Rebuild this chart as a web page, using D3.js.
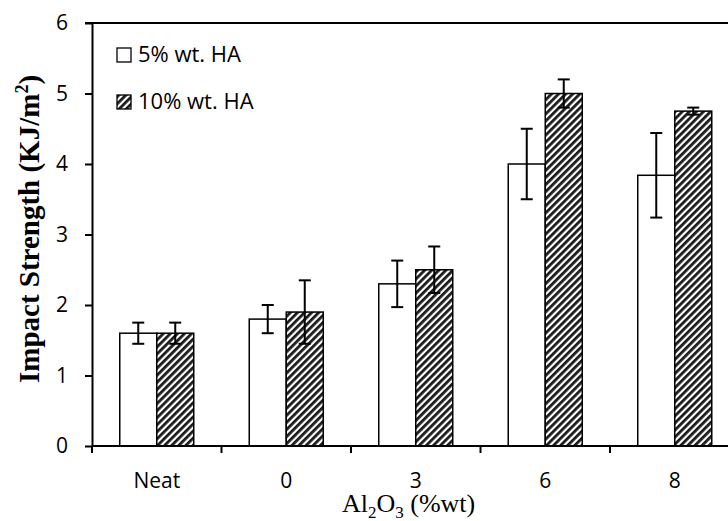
<!DOCTYPE html>
<html>
<head>
<meta charset="utf-8">
<script src="https://cdnjs.cloudflare.com/ajax/libs/d3/7.8.5/d3.min.js"></script>
<style>
  body { margin: 0; background: #fff; }
  svg { display: block; }
</style>
</head>
<body>
<svg width="728" height="521"></svg>
<script>
var categories = ["Neat", "0", "3", "6", "8"];
var seriesNames = ["5% wt. HA", "10% wt. HA"];
var ha5 = [1.6, 1.8, 2.3, 4.0, 3.84];
var ha5Err = [0.15, 0.2, 0.33, 0.5, 0.6];
var ha10 = [1.6, 1.9, 2.5, 5.0, 4.75];
var ha10Err = [0.15, 0.45, 0.33, 0.2, 0.05];
var yTicks = [0, 1, 2, 3, 4, 5, 6];

window.onload = function() {

  var svg = d3.select("svg");
  var width = +svg.attr("width");

  var left = 92, top = 23, bottom = 446, catW = 129.5;
  var barW = 37;

  var x = d3.scaleBand()
      .domain(categories)
      .range([left, left + catW * categories.length]);

  var y = d3.scaleLinear()
      .domain([0, 6])
      .range([bottom, top]);

  // hatch pattern
  var defs = svg.append("defs");
  var pat = defs.append("pattern")
      .attr("id", "hatch")
      .attr("patternUnits", "userSpaceOnUse")
      .attr("width", 5)
      .attr("height", 5)
      .attr("patternTransform", "rotate(45)");
  pat.append("rect")
      .attr("width", 5).attr("height", 5).attr("fill", "#fff");
  pat.append("rect")
      .attr("width", 2.8).attr("height", 5).attr("fill", "#1a1a1a");

  var series = [
    { name: seriesNames[0], values: ha5, err: ha5Err, fill: "#fff", off: -barW },
    { name: seriesNames[1], values: ha10, err: ha10Err, fill: "url(#hatch)", off: 0 }
  ];

  // top border line
  svg.append("line")
      .attr("x1", left - 7).attr("x2", width)
      .attr("y1", y(6)).attr("y2", y(6))
      .attr("stroke", "#000").attr("stroke-width", 2);

  // bars
  series.forEach(function(s) {
    svg.append("g")
      .selectAll("rect")
      .data(categories)
      .enter().append("rect")
        .attr("x", function(d) { return x(d) + x.bandwidth() / 2 + s.off; })
        .attr("y", function(d, i) { return y(s.values[i]); })
        .attr("width", barW)
        .attr("height", function(d, i) { return y(0) - y(s.values[i]); })
        .attr("fill", s.fill)
        .attr("stroke", "#000")
        .attr("stroke-width", 1.5);
  });

  // error bars
  series.forEach(function(s) {
    var g = svg.append("g")
        .attr("stroke", "#000")
        .attr("stroke-width", 2);
    categories.forEach(function(d, i) {
      var cx = x(d) + x.bandwidth() / 2 + s.off + barW / 2;
      var hi = y(s.values[i] + s.err[i]);
      var lo = y(s.values[i] - s.err[i]);
      g.append("line").attr("x1", cx).attr("x2", cx).attr("y1", hi).attr("y2", lo);
      g.append("line").attr("x1", cx - 6).attr("x2", cx + 6).attr("y1", hi).attr("y2", hi);
      g.append("line").attr("x1", cx - 6).attr("x2", cx + 6).attr("y1", lo).attr("y2", lo);
    });
  });

  // y axis
  var yAxis = svg.append("g")
      .attr("transform", "translate(" + left + ",0)")
      .call(d3.axisLeft(y).tickValues(yTicks).tickFormat(d3.format("d"))
        .tickSize(7).tickPadding(17).tickSizeOuter(0));

  // x axis
  var xAxis = svg.append("g")
      .attr("transform", "translate(0," + bottom + ")")
      .call(d3.axisBottom(x).tickSize(0).tickPadding(27).tickSizeOuter(0));

  // category boundary ticks
  xAxis.selectAll(".bnd")
      .data(categories)
      .enter().append("line")
        .attr("class", "bnd")
        .attr("x1", function(d) { return x(d); })
        .attr("x2", function(d) { return x(d); })
        .attr("y1", 0).attr("y2", 7)
        .attr("stroke", "#000").attr("stroke-width", 2);

  svg.selectAll(".domain").attr("stroke", "#000").attr("stroke-width", 2);
  yAxis.selectAll(".tick line").attr("stroke-width", 2);
  svg.selectAll(".tick text")
      .attr("font-family", "'Open Sans', sans-serif")
      .attr("font-size", 21)
      .attr("fill", "#000");
  xAxis.select(".domain").attr("d", "M" + left + ",0H" + width);

  // axis titles
  svg.append("text")
      .attr("transform", "translate(39,229) rotate(-90)")
      .attr("text-anchor", "middle")
      .attr("font-family", "'Liberation Serif', 'Times New Roman', serif")
      .attr("font-weight", "bold")
      .attr("font-size", 29)
      .html("Impact Strength (KJ/m<tspan dy='-11' font-size='18'>2</tspan><tspan dy='11'>)</tspan>");

  svg.append("text")
      .attr("x", 342)
      .attr("y", 512)
      .attr("font-family", "'Liberation Serif', 'Times New Roman', serif")
      .attr("font-size", 26)
      .html("Al<tspan dy='6' font-size='17'>2</tspan><tspan dy='-6'>O</tspan><tspan dy='6' font-size='17'>3</tspan><tspan dy='-6'> (%wt)</tspan>");

  // legend
  var legend = svg.append("g")
      .selectAll("g")
      .data(series)
      .enter().append("g")
        .attr("transform", function(d, i) { return "translate(117," + (48 + i * 47) + ")"; });

  legend.append("rect")
      .attr("width", 14).attr("height", 14)
      .attr("fill", function(d) { return d.fill; })
      .attr("stroke", "#000")
      .attr("stroke-width", 1.3);

  legend.append("text")
      .attr("x", 21)
      .attr("y", 14)
      .attr("font-family", "'Open Sans', sans-serif")
      .attr("font-size", 22)
      .text(function(d) { return d.name; });
};
</script>
</body>
</html>
